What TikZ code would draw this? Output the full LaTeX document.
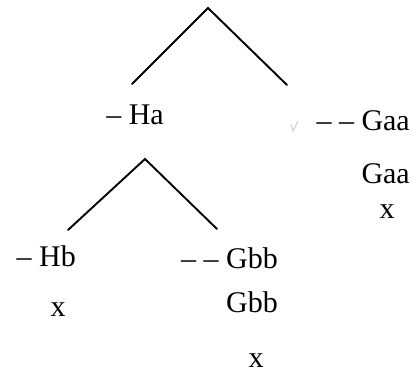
\documentclass[tikz,border=0pt]{standalone}
\usepackage{fontspec}
\setmainfont{Liberation Serif}
\begin{document}
\begin{tikzpicture}[x=1pt,y=-1pt,
  lbl/.style={inner sep=0pt,font=\fontsize{30}{33}\selectfont},
  branch/.style={line width=1.9pt,line cap=round,line join=miter}]
\useasboundingbox (0,0) rectangle (413,372);
% tree coordinates
\coordinate (topA) at (208,8);
\coordinate (topL) at (132,84);
\coordinate (topR) at (287,85);
\coordinate (subA) at (145,159);
\coordinate (subL) at (68,230);
\coordinate (subR) at (217,229);
\draw[branch] (topL) -- (topA) -- (topR);
\draw[branch] (subL) -- (subA) -- (subR);
% labels
\node[lbl,anchor=base east] (ha) at (164,124) {– Ha};
\node[lbl,anchor=base east] (gaa1) at (410,130) {– – Gaa};
\node[lbl,anchor=base east] (gaa2) at (410,183) {Gaa};
\node[lbl,anchor=base] (xa) at (387,218) {x};
\node[lbl,anchor=base east] (hb) at (76,266) {– Hb};
\node[lbl,anchor=base] (xb) at (58,316) {x};
\node[lbl,anchor=base east] (gbb1) at (278,268) {– – Gbb};
\node[lbl,anchor=base east] (gbb2) at (278,312) {Gbb};
\node[lbl,anchor=base] (xc) at (256,367) {x};
% faint tick mark
\draw[gray!60,line width=0.6pt] (291,124) -- (293,131) -- (298,121);
\end{tikzpicture}
\end{document}
